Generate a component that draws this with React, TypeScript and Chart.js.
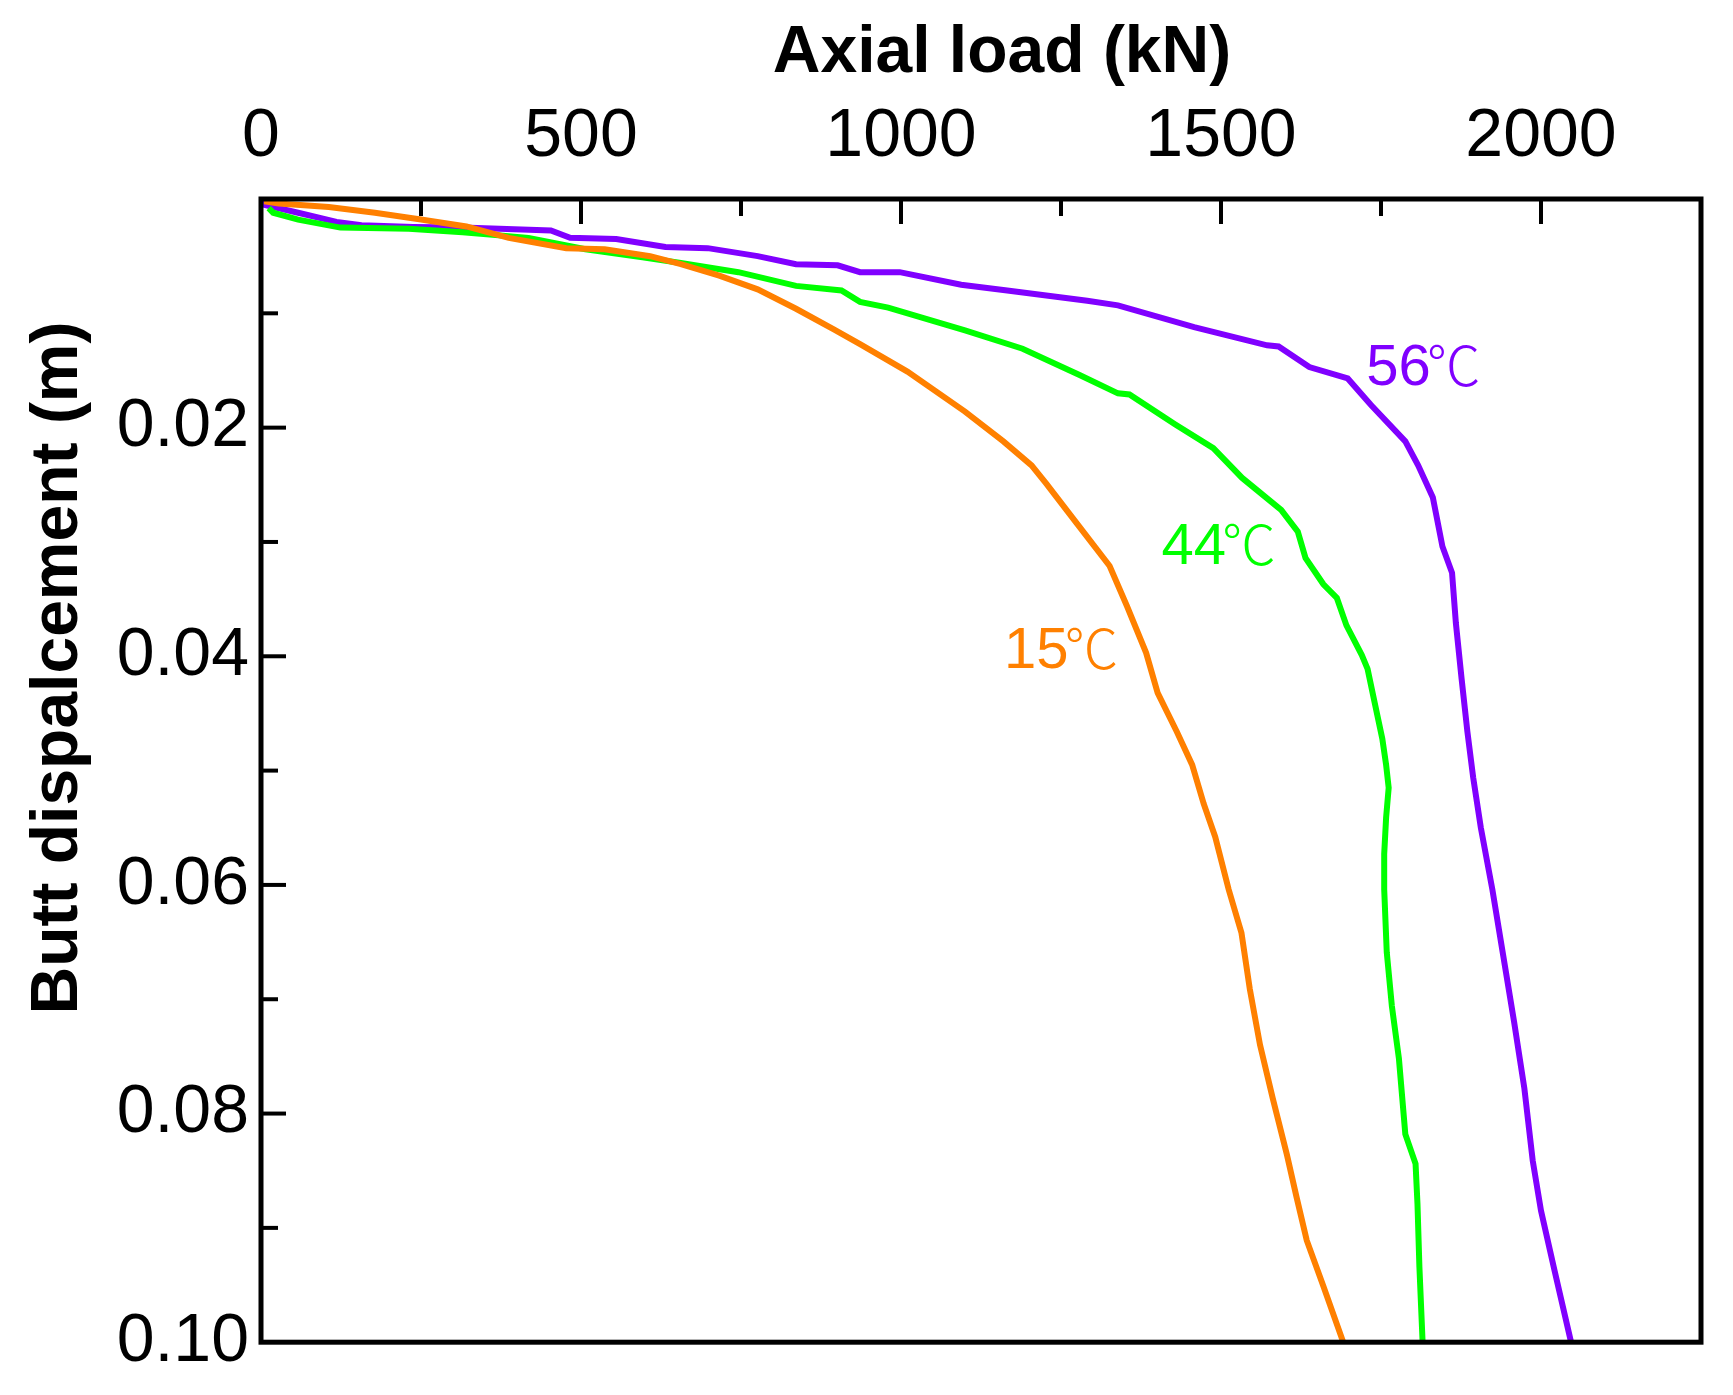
import { useEffect, useRef } from "react";
import { Chart, registerables, Plugin } from "chart.js";

Chart.register(...registerables);

// axial load (kN) vs butt displacement (m)
const load15 = [5, 28, 106, 178, 250, 321, 387, 477, 537, 608, 656, 716, 776, 836, 895, 936, 1010, 1100, 1160, 1204, 1227, 1275, 1326, 1353, 1383, 1401, 1431, 1455, 1473, 1491, 1512, 1532, 1545, 1561, 1581, 1603, 1618, 1634, 1660, 1691];
const disp15 = [0.0002, 0.0004, 0.0007, 0.0012, 0.0018, 0.0024, 0.0034, 0.0043, 0.0044, 0.005, 0.0057, 0.0067, 0.0079, 0.0096, 0.0114, 0.0127, 0.0151, 0.0186, 0.0212, 0.0233, 0.0249, 0.0284, 0.0321, 0.0356, 0.0397, 0.0432, 0.0466, 0.0495, 0.0529, 0.0558, 0.0604, 0.0642, 0.0691, 0.074, 0.0787, 0.0836, 0.0873, 0.0911, 0.0951, 0.1];

const load44 = [12, 19, 58, 124, 231, 315, 418, 507, 596, 656, 746, 836, 907, 936, 980, 1100, 1190, 1279, 1339, 1357, 1428, 1488, 1533, 1594, 1620, 1632, 1660, 1681, 1696, 1720, 1729, 1741, 1752, 1758, 1762, 1758, 1755, 1755, 1759, 1767, 1778, 1788, 1804, 1807, 1810, 1815];
const disp44 = [0.0008, 0.0012, 0.0018, 0.0025, 0.0026, 0.0029, 0.0034, 0.0044, 0.0051, 0.0056, 0.0064, 0.0076, 0.008, 0.009, 0.0095, 0.0115, 0.0131, 0.0154, 0.017, 0.0171, 0.0197, 0.0218, 0.0244, 0.0272, 0.0291, 0.0314, 0.0337, 0.0349, 0.0373, 0.0399, 0.0411, 0.0443, 0.0472, 0.0495, 0.0515, 0.0541, 0.0573, 0.0604, 0.0659, 0.0706, 0.0752, 0.0818, 0.0844, 0.0879, 0.0934, 0.1];

const load56 = [0, 4, 58, 118, 157, 238, 315, 453, 483, 555, 632, 698, 776, 836, 901, 936, 998, 1094, 1166, 1291, 1339, 1458, 1572, 1590, 1638, 1698, 1734, 1788, 1808, 1831, 1846, 1861, 1867, 1876, 1885, 1894, 1906, 1924, 1941, 1958, 1974, 1987, 2000, 2021, 2047];
const disp56 = [0, 0.0005, 0.0012, 0.002, 0.0023, 0.00245, 0.0025, 0.00275, 0.0034, 0.0035, 0.0042, 0.0043, 0.005, 0.0057, 0.0058, 0.0064, 0.0064, 0.0075, 0.008, 0.0089, 0.0093, 0.0112, 0.0128, 0.0129, 0.0147, 0.0157, 0.018, 0.0212, 0.0233, 0.0261, 0.0304, 0.0327, 0.0371, 0.042, 0.0466, 0.0506, 0.055, 0.0604, 0.0662, 0.072, 0.0778, 0.0841, 0.0885, 0.0937, 0.1];

const seriesTemps = ["15", "44", "56"];
const seriesColors = ["#FF8000", "#00FF00", "#8000FF"];
// where each series name sits (load, displacement of text baseline)
const nameLoad = [1161, 1407, 1727];
const nameDisp = [0.041, 0.0319, 0.0163];

const X_MIN = 0;
const X_MAX = 2250;
const Y_MIN = 0;
const Y_MAX = 0.1;

const FONT = "'Liberation Sans', Arial, sans-serif";
const CJK = "'Noto Sans CJK SC', 'Liberation Sans', sans-serif";

const toPoints = (xs: number[], ys: number[]) => xs.map((x, i) => ({ x, y: ys[i] }));

const framePlugin: Plugin<"scatter"> = {
  id: "frame",
  afterDraw(chart) {
    const { ctx, chartArea: a, scales } = chart;
    const xs = scales.x;
    const ys = scales.y;
    ctx.save();
    ctx.strokeStyle = "#000";
    ctx.lineWidth = 4;
    xs.ticks.forEach((t) => {
      if (t.value <= X_MIN || t.value >= X_MAX) return;
      const px = xs.getPixelForValue(t.value);
      const len = t.value % 500 === 0 ? 25 : 17;
      ctx.beginPath();
      ctx.moveTo(px, a.top);
      ctx.lineTo(px, a.top + len);
      ctx.stroke();
    });
    ys.ticks.forEach((t) => {
      const k = Math.round(t.value * 100);
      if (k <= 0 || k >= 10) return;
      const py = ys.getPixelForValue(t.value);
      const len = k % 2 === 0 ? 25 : 17;
      ctx.beginPath();
      ctx.moveTo(a.left, py);
      ctx.lineTo(a.left + len, py);
      ctx.stroke();
    });
    ctx.lineWidth = 5;
    ctx.strokeRect(a.left, a.top, a.right - a.left, a.bottom - a.top);

    // axis titles
    ctx.fillStyle = "#000";
    ctx.font = `bold 66px ${FONT}`;
    ctx.textAlign = "center";
    ctx.textBaseline = "alphabetic";
    ctx.fillText("Axial load (kN)", (a.left + a.right) / 2 + 21, 72);
    ctx.translate(77, a.top + 469);
    ctx.rotate(-Math.PI / 2);
    ctx.fillText("Butt dispalcement (m)", 0, 0);
    ctx.restore();

    // series names: digits then a thin ℃
    ctx.save();
    ctx.textAlign = "left";
    ctx.textBaseline = "alphabetic";
    seriesTemps.forEach((temp, i) => {
      const px = xs.getPixelForValue(nameLoad[i]);
      const py = ys.getPixelForValue(nameDisp[i]);
      ctx.fillStyle = seriesColors[i];
      ctx.font = `58px ${FONT}`;
      ctx.fillText(temp, px, py);
      const w = ctx.measureText(temp).width;
      ctx.font = `300 54px ${CJK}`;
      ctx.fillText("℃", px + w - 4, py + 1);
    });
    ctx.restore();
  },
};

export default function App() {
  const canvasRef = useRef<HTMLCanvasElement | null>(null);

  useEffect(() => {
    document.body.style.margin = "0";
    if (!canvasRef.current) return;

    const chart = new Chart(canvasRef.current, {
      type: "scatter",
      data: {
        datasets: [
          { label: seriesTemps[0] + "℃", data: toPoints(load15, disp15) },
          { label: seriesTemps[1] + "℃", data: toPoints(load44, disp44) },
          { label: seriesTemps[2] + "℃", data: toPoints(load56, disp56) },
        ].map((d, i) => ({
          ...d,
          showLine: true,
          borderColor: seriesColors[i],
          backgroundColor: seriesColors[i],
          borderWidth: 6,
          pointRadius: 0,
          tension: 0,
        })),
      },
      options: {
        animation: false,
        responsive: false,
        devicePixelRatio: 1,
        layout: { padding: { left: 0, top: 0, right: 32, bottom: 42 } },
        plugins: {
          legend: { display: false },
          tooltip: { enabled: false },
        },
        scales: {
          x: {
            type: "linear",
            position: "top",
            min: X_MIN,
            max: X_MAX,
            grid: { display: false, drawTicks: false },
            border: { display: false },
            ticks: {
              stepSize: 250,
              padding: 21,
              color: "#000",
              font: { size: 68, family: FONT },
              maxRotation: 0,
              autoSkip: false,
              callback: (v) => (Number(v) % 500 === 0 ? String(v) : ""),
            },
            afterFit: (s) => {
              s.height = 199;
            },
          },
          y: {
            type: "linear",
            reverse: true,
            min: Y_MIN,
            max: Y_MAX,
            grid: { display: false, drawTicks: false },
            border: { display: false },
            ticks: {
              stepSize: 0.01,
              padding: 12,
              color: "#000",
              font: { size: 68, family: FONT },
              autoSkip: false,
              callback: (v) => {
                const k = Math.round(Number(v) * 100);
                return k > 0 && k % 2 === 0 ? Number(v).toFixed(2) : "";
              },
            },
            afterFit: (s) => {
              s.width = 261;
            },
          },
        },
      },
      plugins: [framePlugin],
    });

    return () => {
      chart.destroy();
    };
  }, []);

  return (
    <div style={{ width: 1733, height: 1395, background: "#fff" }}>
      <canvas ref={canvasRef} width={1733} height={1395}></canvas>
    </div>
  );
}
